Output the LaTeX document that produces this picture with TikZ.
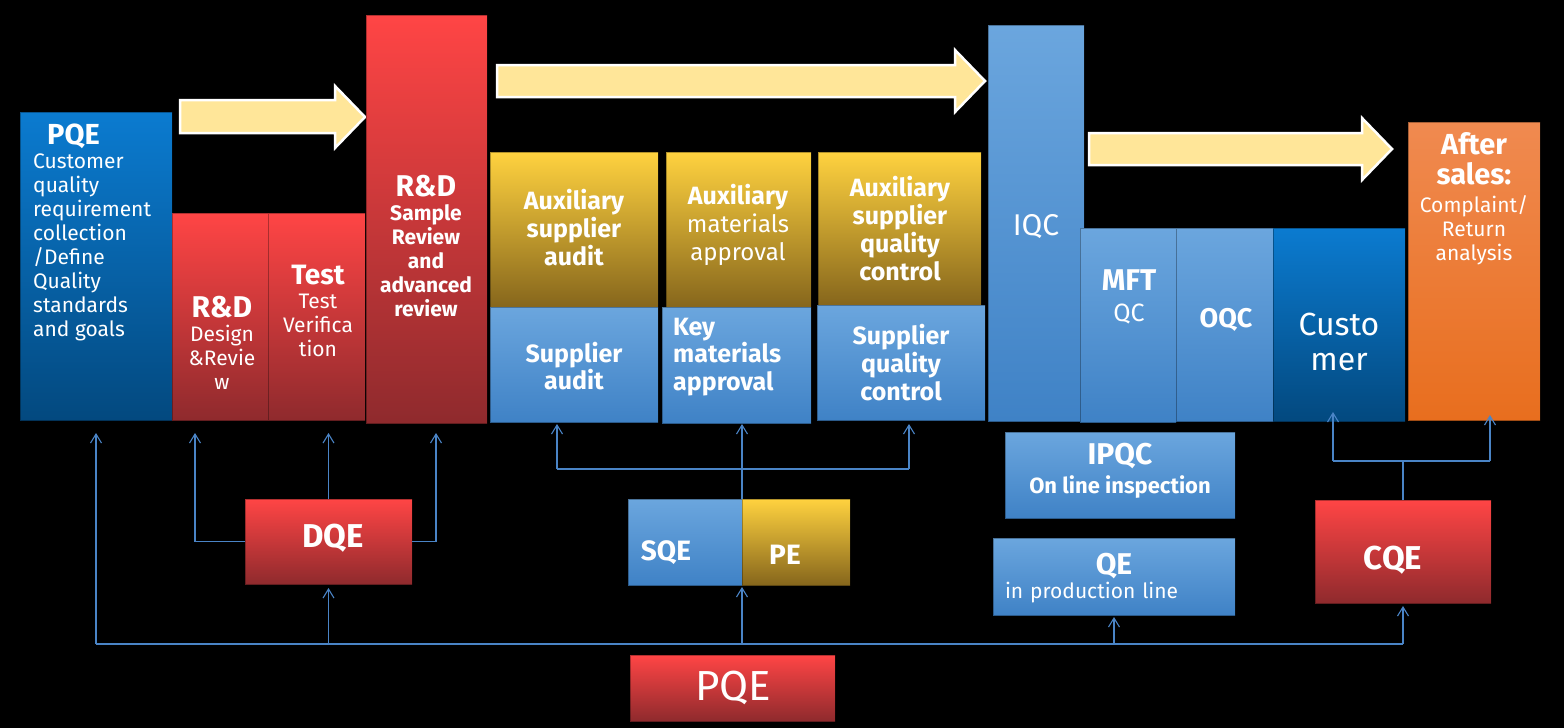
\documentclass[tikz,border=0pt]{standalone}
\usepackage{fontspec}
\setmainfont{Fira Sans}
\usetikzlibrary{arrows.meta}
\definecolor{deepblueT}{HTML}{0B7BD0}
\definecolor{deepblueB}{HTML}{03497F}
\definecolor{redT}{HTML}{FF4545}
\definecolor{redB}{HTML}{8F2A2D}
\definecolor{goldT}{HTML}{FFD23F}
\definecolor{goldB}{HTML}{86661C}
\definecolor{liteT}{HTML}{6BA6DE}
\definecolor{liteB}{HTML}{3F82C6}
\definecolor{oranT}{HTML}{F08A50}
\definecolor{oranB}{HTML}{E86E1E}
\definecolor{flow}{HTML}{FFE699}
\definecolor{linkc}{HTML}{4A84C6}
\newcommand{\hd}[2][29]{{\fontsize{#1}{#1}\selectfont\bfseries #2}}

\begin{document}
\begin{tikzpicture}[x=1pt, y=-1pt, font=\fontsize{21}{24}\selectfont,
  box/.style 2 args={anchor=north west, inner sep=0pt, outer sep=0pt,
    minimum width=#1, minimum height=#2, draw=black, draw opacity=0.3, line width=0.8pt},
  deepbox/.style={top color=deepblueT, bottom color=deepblueB},
  redbox/.style={top color=redT, bottom color=redB},
  goldbox/.style={top color=goldT, bottom color=goldB},
  litebox/.style={top color=liteT, bottom color=liteB},
  oranbox/.style={top color=oranT, bottom color=oranB},
  txt/.style={text=white, inner sep=0pt, align=center},
  flowarrow/.style={fill=flow, draw=white, line width=2.5pt, line join=miter},
  link/.style={draw=linkc, line width=1.1pt},
  tip/.style={-{Straight Barb[length=9pt,width=11pt]}}]
\fill[black] (0,0) rectangle (1564,728);

% flow arrows
\draw[flowarrow] (180,100) -- (335,100) -- (335,86) -- (365,117) -- (335,148) -- (335,133) -- (180,133) -- cycle;
\draw[flowarrow] (497,65) -- (955,65) -- (955,50) -- (985,81) -- (955,112) -- (955,97) -- (497,97) -- cycle;
\draw[flowarrow] (1089,133) -- (1362,133) -- (1362,118) -- (1392,149) -- (1362,180) -- (1362,165) -- (1089,165) -- cycle;

% design stage
\node[deepbox, box={152pt}{308pt}] (pqe) at (20,112) {};
\node[redbox, box={96pt}{207pt}] (rdd) at (172,213) {};
\node[redbox, box={97pt}{207pt}] (test) at (268,213) {};
\node[redbox, box={121pt}{408pt}] (rds) at (366,15) {};
\node[txt, anchor=west, align=left] (pqe-t) at (33,232)
  {\hspace*{14pt}\hd{PQE}\\Customer\\quality\\requirement\\collection\\/Define\\Quality\\standards\\and goals};
\node[txt] (rdd-t) at (222,343) {\hd[30]{R\&D}\\Design\\\&Revie\\w};
\node[txt] (test-t) at (318,311) {\hd[28]{Test}\\Test\\Verifica\\tion};
\node[txt, font=\fontsize{21}{24}\selectfont\bfseries] (rds-t) at (426,246)
  {\hd[30]{R\&D}\\Sample\\Review\\and\\advanced\\review};

% supplier stage
\node[goldbox, box={168pt}{155pt}] (aux1) at (490,152) {};
\node[goldbox, box={145pt}{155pt}] (aux2) at (666,152) {};
\node[goldbox, box={163pt}{153pt}] (aux3) at (818,152) {};
\node[litebox, box={168pt}{115pt}] (saud) at (490,307) {};
\node[litebox, box={149pt}{116pt}] (keym) at (662,307) {};
\node[litebox, box={168pt}{115pt}] (sqc) at (817,305) {};
\node[txt, font=\fontsize{25}{28}\selectfont\bfseries] (aux1-t) at (574,228) {Auxiliary\\supplier\\audit};
\node[txt, font=\fontsize{24}{28}\selectfont] (aux2-t) at (738,225) {\hd[25]{Auxiliary}\\materials\\approval};
\node[txt, font=\fontsize{25}{28}\selectfont\bfseries] (aux3-t) at (900,229) {Auxiliary\\supplier\\quality\\control};
\node[txt, font=\fontsize{25}{27}\selectfont\bfseries] (saud-t) at (574,366) {Supplier\\audit};
\node[txt, anchor=west, align=left, font=\fontsize{25}{27.5}\selectfont\bfseries] (keym-t) at (673,357) {Key\\materials\\approval};
\node[txt, font=\fontsize{25}{28}\selectfont\bfseries] (sqc-t) at (901,363) {Supplier\\quality\\control};

% production stage
\node[litebox, box={96pt}{396pt}] (iqc) at (988,25) {};
\node[litebox, box={96pt}{194pt}] (mft) at (1080,228) {};
\node[litebox, box={97pt}{193pt}] (oqc) at (1176,228) {};
\node[deepbox, box={132pt}{193pt}] (cust) at (1273,228) {};
\node[oranbox, box={132pt}{298pt}] (after) at (1408,122) {};
\node[txt, font=\fontsize{30}{32}\selectfont] (iqc-t) at (1036,227) {IQC};
\node[txt, font=\fontsize{25}{31}\selectfont] (mft-t) at (1129,297) {\hd[30]{MFT}\\QC};
\node[txt, font=\fontsize{27}{30}\selectfont\bfseries] (oqc-t) at (1226,320) {OQC};
\node[txt, font=\fontsize{32}{35}\selectfont] (cust-t) at (1339,342) {Custo\\mer};
\node[txt] (after-t) at (1474,199) {\hd{After}\\[6pt]\hd{sales:}\\[4pt]Complaint/\\Return\\analysis};

% engineers
\node[litebox, box={230pt}{86pt}] (ipqc) at (1005,432) {};
\node[litebox, box={242pt}{77pt}] (qe) at (993,538) {};
\node[redbox, box={176pt}{103pt}] (cqe) at (1315,500) {};
\node[redbox, box={167pt}{85pt}] (dqe) at (245,499) {};
\node[litebox, box={114pt}{86pt}] (sqe) at (628,499) {};
\node[goldbox, box={108pt}{86pt}] (pe) at (742,499) {};
\node[redbox, box={205pt}{66pt}] (pqeb) at (630,655) {};
\node[txt, font=\fontsize{22}{29}\selectfont\bfseries] (ipqc-t) at (1120,471) {\hd[30]{IPQC}\\On line inspection};
\node[txt, text width=218pt] (qe-t) at (1114,578) {\hd[30]{QE}\\in production line\hspace*{\fill}};
\node[txt] (cqe-t) at (1393,560) {\hd[33]{CQE}};
\node[txt] (dqe-t) at (333,538) {\hd[33]{DQE}};
\node[txt] (sqe-t) at (666,553) {\hd[28]{SQE}};
\node[txt] (pe-t) at (785,555) {\hd[28]{PE}};
\node[txt, font=\fontsize{42}{44}\selectfont] (pqeb-t) at (733,688) {PQE};

% connectors
\coordinate (bus) at (0,644);
\coordinate (sbar) at (0,469);
\coordinate (cbar) at (0,461);
\draw[link] (pqe.south |- bus) -- (cqe.south |- bus);
\draw[link, tip, shorten >=13pt] (pqe.south |- bus) -- (pqe.south);
\draw[link, tip, shorten >=4pt] (dqe.south |- bus) -- (dqe.south);
\draw[link, tip, shorten >=2pt] (sqe.south east |- bus) -- (sqe.south east);
\draw[link, tip, shorten >=2pt] (qe.south |- bus) -- (qe.south);
\draw[link, tip, shorten >=3pt] (cqe.south |- bus) -- (cqe.south);
\draw[link, tip, shorten >=13pt] (dqe.north) -- (dqe.north |- test.south);
\draw[link, tip, shorten >=13pt] (dqe.west) -| ([xshift=-25pt]rdd.south);
\draw[link, tip, shorten >=10pt] (dqe.east) -| ([xshift=9.5pt]rds.south);
\draw[link, tip, shorten >=1pt] (sqe.north east) -- (sqe.north east |- keym.south);
\draw[link] ([xshift=-17pt]saud.south |- sbar) -- ([xshift=8pt]sqc.south |- sbar);
\draw[link, tip, shorten >=2pt] ([xshift=-17pt]saud.south |- sbar) -- ([xshift=-17pt]saud.south);
\draw[link, tip, shorten >=4pt] ([xshift=8pt]sqc.south |- sbar) -- ([xshift=8pt]sqc.south);
\draw[link] (cqe.north) -- (cqe.north |- cbar);
\draw[link] ([xshift=-6pt]cust.south |- cbar) -- ([xshift=16pt]after.south |- cbar);
\draw[link, tip, shorten >=-9pt] ([xshift=-6pt]cust.south |- cbar) -- ([xshift=-6pt]cust.south);
\draw[link, tip, shorten >=-5pt] ([xshift=16pt]after.south |- cbar) -- ([xshift=16pt]after.south);
\end{tikzpicture}
\end{document}
